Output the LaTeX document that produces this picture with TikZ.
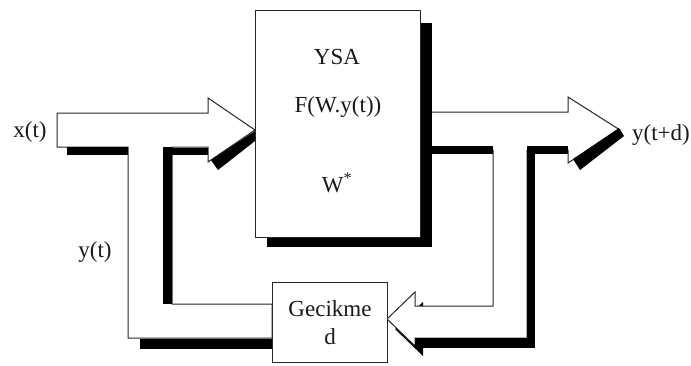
\documentclass[tikz,border=0pt]{standalone}
\usepackage{fontspec}
\setmainfont{Liberation Serif}
\begin{document}
\begin{tikzpicture}[x=1pt,y=-1pt,
  outl/.style={draw=black!85,line width=1pt,fill=white,line join=miter},
  shad/.style={fill=black,draw=none},
  lbl/.style={font=\fontsize{23}{27}\selectfont,inner sep=0pt,text=black!90}]
\useasboundingbox (0,0) rectangle (691,365);
% ---- output arrow and right feedback channel ----
\fill[shad] (423,302) -- (395,329) -- (423,356) -- cycle;
\draw[outl] (420,112) -- (568,112) -- (568,97) -- (620,130) -- (568,163) -- (568,150)
  -- (527,150) -- (527,338) -- (415,338) -- (415,346) -- (387,319) -- (415,292)
  -- (415,306) -- (493,306) -- (493,150) -- (420,150);
\fill[shad] (432,146) rectangle (493,154);
\fill[shad] (527,146) rectangle (568,154);
\fill[shad] (527,146) rectangle (535,348);
\fill[shad] (415,338) rectangle (535,348);
\fill[shad] (573,159) -- (619,128) -- (624,136) -- (580,170) -- cycle;
% ---- main block ----
\fill[shad] (267,23) rectangle (432,247);
\node[draw=black!85,line width=1pt,fill=white,minimum width=165pt,minimum height=227pt,inner sep=0pt]
  (ysa) at (337.5,123.5) {};
% ---- input arrow and left feedback channel ----
\draw[outl] (57,113) -- (208,113) -- (208,98) -- (255,130) -- (208,162) -- (208,147)
  -- (172,147) -- (172,304) -- (272,304) -- (272,338) -- (128,338) -- (128,147)
  -- (57,147) -- cycle;
\fill[shad] (67,147) rectangle (128,155);
\fill[shad] (163,147) rectangle (171.5,304);
\fill[shad] (171,147.5) rectangle (208,155);
\fill[shad] (211,160) -- (255,131) -- (255,141) -- (218,170) -- cycle;
\fill[shad] (140,338.5) rectangle (272,349);
% ---- delay block ----
\node[draw=black!85,line width=1pt,fill=white,minimum width=115pt,minimum height=80pt,inner sep=0pt]
  (gec) at (329.5,322) {};
% ---- texts ----
\node[lbl] (t1) at (337,57) {YSA};
\node[lbl] (t2) at (338,107) {F(W.y(t))};
\node[lbl] (t3) at (337,183) {W\textsuperscript{*}};
\node[lbl] (g1) at (330,309) {Gecikme};
\node[lbl] (g2) at (330,337) {d};
\node[lbl] (xin) at (30,132) {x(t)};
\node[lbl] (yt) at (95,252) {y(t)};
\node[lbl] (yout) at (661,135) {y(t+d)};
\end{tikzpicture}
\end{document}
